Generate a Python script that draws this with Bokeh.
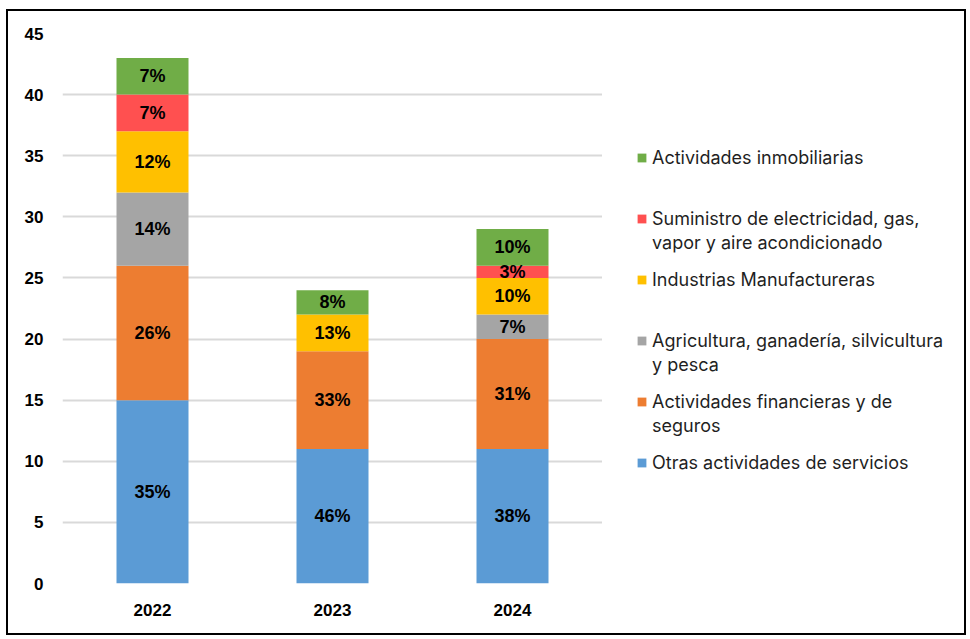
from bokeh.plotting import figure
from bokeh.layouts import row
from bokeh.models import ColumnDataSource, FactorRange, Range1d, SingleIntervalTicker, Legend, LegendItem
from bokeh.core.properties import value
from bokeh.embed import file_html
from bokeh.resources import INLINE

years = ["2022", "2023", "2024"]
keys = ["otras", "financieras", "agricultura", "industrias", "suministro", "inmobiliarias"]
# legend text: first line, second line ("" when single line)
names_line1 = [
    "Otras actividades de servicios",
    "Actividades financieras y de",
    "Agricultura, ganadería, silvicultura",
    "Industrias Manufactureras",
    "Suministro de electricidad, gas,",
    "Actividades inmobiliarias",
]
names_line2 = ["", "seguros", "y pesca", "", "vapor y aire acondicionado", ""]

otras = [15, 11, 11]
financieras = [11, 8, 9]
agricultura = [6, 0, 2]
industrias = [5, 3, 3]
suministro = [3, 0, 1]
inmobiliarias = [3, 2, 3]

otras_lbl = ["35%", "46%", "38%"]
financieras_lbl = ["26%", "33%", "31%"]
agricultura_lbl = ["14%", "", "7%"]
industrias_lbl = ["12%", "13%", "10%"]
suministro_lbl = ["7%", "", "3%"]
inmobiliarias_lbl = ["7%", "8%", "10%"]

colors = ["#5B9BD5", "#ED7D31", "#A5A5A5", "#FFC000", "#FF5050", "#70AD47"]
values = [otras, financieras, agricultura, industrias, suministro, inmobiliarias]
labels = [otras_lbl, financieras_lbl, agricultura_lbl, industrias_lbl, suministro_lbl, inmobiliarias_lbl]

data = {"years": years}
for k, v in zip(keys, values):
    data[k] = v
source = ColumnDataSource(data)

p = figure(
    x_range=FactorRange(factors=years, range_padding=0),
    y_range=Range1d(0, 45),
    width=594, height=622,
    output_backend="svg", toolbar_location=None,
    min_border_left=54, min_border_right=0, min_border_top=22, min_border_bottom=50,
)
p.outline_line_color = None
p.background_fill_color = "white"
p.border_fill_color = "white"

renderers = p.vbar_stack(keys, x="years", width=0.4, color=colors, source=source, line_color=None)

# data labels centred in each segment
lx, ly, lt = [], [], []
base = [0, 0, 0]
for v, lab in zip(values, labels):
    for i in range(len(years)):
        if v[i] > 0:
            lx.append(years[i])
            ly.append(base[i] + v[i] / 2)
            lt.append(lab[i])
        base[i] += v[i]
lsrc = ColumnDataSource(dict(x=lx, y=ly, t=lt))
p.text(x="x", y="y", text="t", source=lsrc, text_align="center", text_baseline="middle",
       text_font=value("Liberation Sans"), text_font_style="bold", text_font_size="18px",
       text_color="black")

# axes
p.yaxis.ticker = SingleIntervalTicker(interval=5)
for ax in (p.xaxis[0], p.yaxis[0]):
    ax.axis_line_color = None
    ax.major_tick_line_color = None
    ax.minor_tick_line_color = None
    ax.major_tick_out = 0
    ax.major_tick_in = 0
    ax.minor_tick_out = 0
    ax.major_label_text_font = "Liberation Sans"
    ax.major_label_text_font_style = "bold"
    ax.major_label_text_font_size = "17px"
    ax.major_label_text_color = "black"
p.yaxis.major_label_standoff = 19
p.xaxis.major_label_standoff = 20
p.xgrid.grid_line_color = None
p.ygrid.grid_line_color = "#D9D9D9"
p.ygrid.grid_line_width = 2

# legend panel (separate canvas to the right, no axes); it holds the same stacked
# series, hidden, so the legend swatches come from them
q = figure(width=362, height=622, x_range=FactorRange(factors=years), y_range=Range1d(1000, 1001),
           x_axis_type=None, y_axis_type=None, output_backend="svg", toolbar_location=None,
           min_border=0)
q.outline_line_color = None
q.xgrid.visible = False
q.ygrid.visible = False
q.background_fill_color = "white"
q.border_fill_color = "white"
swatches = q.vbar_stack(keys, x="years", width=0.4, color=colors, source=source, line_color=None)
for r in swatches:
    r.visible = False

order = list(reversed(range(6)))
items_a = [LegendItem(label=names_line1[i], renderers=[swatches[i]]) for i in order]
items_b = [LegendItem(label=names_line2[i] if names_line2[i] else " ", renderers=[swatches[i]])
           for i in order[:-1]]

common = dict(orientation="vertical", label_text_font="Inter", label_text_font_size="18px",
              label_text_color="#1f1f1f", label_height=24, spacing=37, padding=0, margin=0,
              border_line_color=None, background_fill_alpha=0)
legend_a = Legend(items=items_a, location=(34, 109), glyph_width=11, glyph_height=11,
                  label_standoff=5, **common)
legend_b = Legend(items=items_b, location=(34, 146), glyph_width=0, glyph_height=11,
                  label_standoff=16, **common)
q.add_layout(legend_a)
q.add_layout(legend_b)

layout = row(p, q, spacing=0,
             styles={"border": "2px solid black", "margin-left": "6px", "margin-top": "9px"})

open("out.html", "w").write(file_html(layout, INLINE))
